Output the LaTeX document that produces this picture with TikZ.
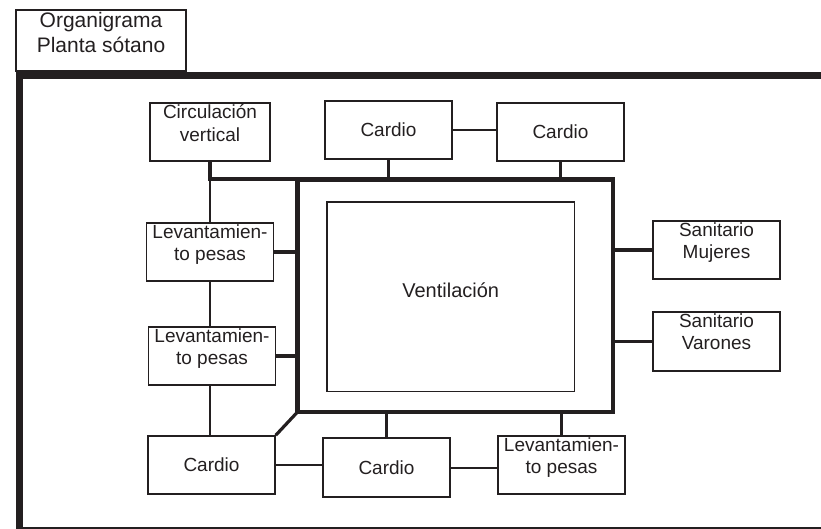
\documentclass[tikz,border=0pt]{standalone}
\usepackage{fontspec}
\setmainfont{Liberation Sans}
\usepackage{tikz}
\usetikzlibrary{positioning}
\definecolor{ink}{HTML}{231F20}

\begin{document}
\begin{tikzpicture}[
  x=1pt,y=-1pt,
  room/.style={draw=ink,line width=1.5pt,minimum width=127pt,minimum height=58pt,inner sep=0pt,font=\fontsize{19}{22.7}\selectfont,text=ink},
  tag/.style={anchor=north,inner sep=0pt,yshift=-2pt,align=center,font=\fontsize{19}{22.7}\selectfont,text=ink},
  wall/.style={draw=ink,line width=4.5pt},
  link/.style={draw=ink,line width=3.2pt},
  thin/.style={draw=ink,line width=2pt}
]
  \useasboundingbox (0,0) rectangle (821,529);
  % title and outer frame
  \node[room,minimum width=170pt,minimum height=61pt,label={[tag,yshift=-1pt,font=\fontsize{21}{25}\selectfont]north:{Organigrama\\Planta sótano}}] (title) at (101,40.5) {};
  \draw[ink,line width=6.5pt] (821,75.5) -- (19.5,75.5) -- (19.5,528);
  \draw[ink,line width=2pt] (16,527.5) -- (821,527.5);

  % central block
  \node[wall,minimum width=315.5pt,minimum height=232.5pt,outer sep=0pt] (frame) at (455.25,295.75) {};
  \node[draw=ink,line width=1.5pt,minimum width=247.5pt,minimum height=189.5pt,label={[tag,anchor=center,yshift=9pt,font=\fontsize{20}{24}\selectfont]center:Ventilación}] (vent) at (450.75,296.75) {};

  % left column
  \node[room,minimum width=120pt,label={[tag]north:{Circulación\\vertical}}] (circ) at (210,132) {};
  \node[room,label={[tag]north:{Levantamien-\\to pesas}}] (lev1) at (210,252) {};
  \node[room,label={[tag]north:{Levantamien-\\to pesas}}] (lev2) at (212,356) {};
  \node[room] (cbl) at (211.5,465) {Cardio};

  % bottom row
  \node[room,minimum height=59pt] (cbm) at (386.5,467.5) {Cardio};
  \node[room,label={[tag]north:{Levantamien-\\to pesas}}] (lbr) at (561.5,465) {};

  % top row
  \node[room] (ct1) at (388.5,130) {Cardio};
  \node[room] (ct2) at (560.5,132) {Cardio};

  % right column
  \node[room,label={[tag]north:{Sanitario\\Mujeres}}] (sm) at (716.5,250) {};
  \node[room,minimum height=59pt,label={[tag]north:{Sanitario\\Varones}}] (sv) at (716.5,341.5) {};

  % connectors
  \draw[ink,line width=4pt] (circ.south) |- (frame.north west);
  \draw[thin] (circ.south |- frame.north) -- (lev1.north);
  \draw[link] (lev1.east) -- (lev1.east -| frame.west);
  \draw[thin] (lev1.south) -- (lev1.south |- lev2.north);
  \draw[link] (lev2.east) -- (lev2.east -| frame.west);
  \draw[thin] (lev1.south |- lev2.south) -- (lev1.south |- cbl.north);
  \draw[link] (cbl.north east) -- (frame.south west);
  \draw[thin] (cbl.east) -- (cbl.east -| cbm.west);
  \draw[thin] (cbm.east) -- (cbm.east -| lbr.west);
  \draw[link] (cbm.north) -- (cbm.north |- frame.south);
  \draw[link] (lbr.north) -- (lbr.north |- frame.south);
  \draw[thin] (ct1.east) -- (ct1.east -| ct2.west);
  \draw[link] (ct1.south) -- (ct1.south |- frame.north);
  \draw[link] (ct2.south) -- (ct2.south |- frame.north);
  \draw[link] (sm.west) -- (sm.west -| frame.east);
  \draw[link] (sv.west) -- (sv.west -| frame.east);
\end{tikzpicture}
\end{document}
